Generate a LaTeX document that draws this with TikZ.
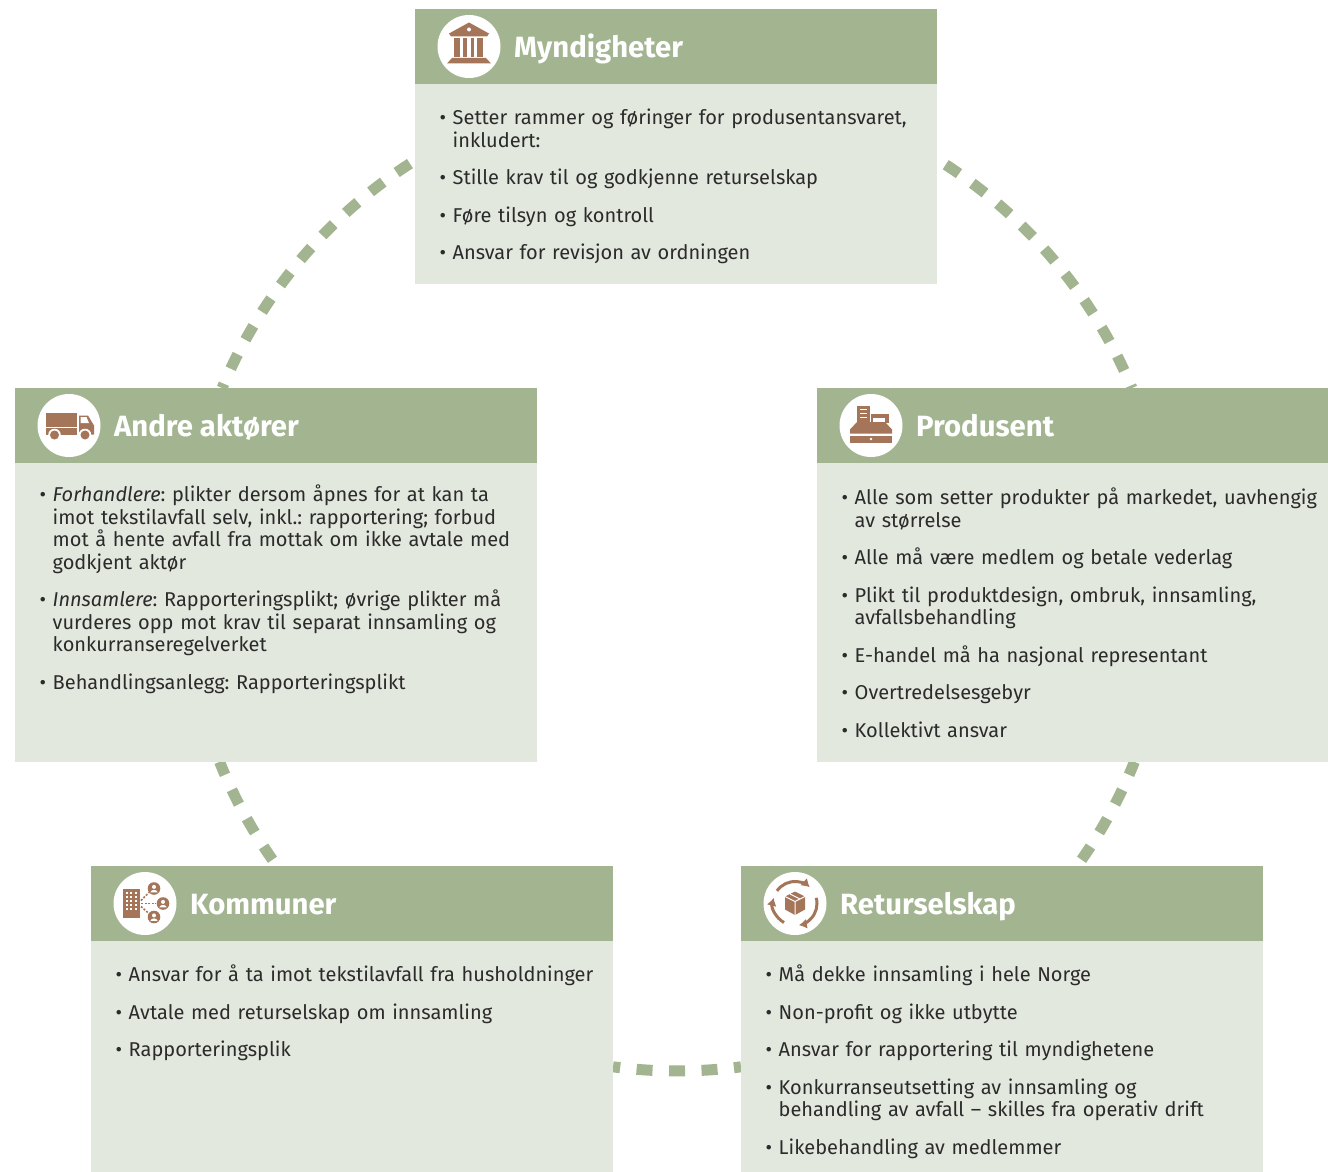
\documentclass[tikz,border=0pt]{standalone}
\usepackage{fontspec}
\setmainfont{Fira Sans}
\usetikzlibrary{positioning,calc,arrows.meta}

\definecolor{headgreen}{HTML}{A2B590}
\definecolor{bodygreen}{HTML}{E3E8DE}
\definecolor{iconbrown}{HTML}{A5755A}
\definecolor{bodyink}{HTML}{2B2B2B}

\newenvironment{boxlist}{\frenchspacing\begin{list}{\fontsize{20}{20}\selectfont\textbullet}{%
    \setlength{\leftmargin}{15.5pt}\setlength{\labelwidth}{10pt}\setlength{\labelsep}{6.5pt}%
    \setlength{\itemsep}{15pt}\setlength{\parsep}{0pt}\setlength{\topsep}{0pt}\setlength{\partopsep}{0pt}%
    \setlength{\itemindent}{0pt}}\raggedright}{\end{list}}

\tikzset{
    headbox/.style={rectangle, fill=headgreen, minimum width=522pt, minimum height=75pt, inner sep=0pt, outer sep=0pt, anchor=north west},
    bodybox/.style={rectangle, fill=bodygreen, minimum width=522pt, inner sep=0pt, outer sep=0pt},
    iconspot/.style={circle, fill=white, minimum size=63pt, inner sep=0pt, outer sep=0pt},
    headtitle/.style={text=white, inner sep=0pt, text height=24pt, text depth=2pt, font=\fontsize{29.3}{32}\bfseries\selectfont},
    listtext/.style={text width=500pt, inner sep=0pt, anchor=north west, text=bodyink, font=\fontsize{20}{22.5}\selectfont},
    ringdash/.style={headgreen, line width=11pt, dash pattern=on 16pt off 16.5pt},
    bankicon/.pic={
        \fill [iconbrown] (-20,-13) -- (0,-24) -- (20,-13) -- (18,-10) -- (-18,-10) -- cycle;
        \fill [white] (0,-17) circle (2);
        \fill [iconbrown] (-14.7,-8) rectangle (-9,10.7);
        \fill [iconbrown] (-5.7,-8) rectangle (-2.3,10.7);
        \fill [iconbrown] (1.7,-8) rectangle (5,10.7);
        \fill [iconbrown] (8.3,-8) rectangle (14.3,10.7);
        \fill [iconbrown] (-17,11.5) -- (17,11.5) -- (22,17) -- (-22,17) -- cycle;
    },
    truckicon/.pic={
        \fill [iconbrown] (-23,-13) rectangle (8,1);
        \fill [iconbrown] (-23,2.5) rectangle (8,9);
        \fill [iconbrown] (10,-10) -- (19,-10) -- (25,0) -- (25,9) -- (10,9) -- cycle;
        \fill [white] (11.5,-8.5) -- (17.5,-8.5) -- (20,-2.5) -- (11.5,-2.5) -- cycle;
        \foreach \wheelx in {-14.5,16} {
            \fill [white] (\wheelx,9.5) circle (6.3);
            \fill [iconbrown] (\wheelx,9.5) circle (4.5);
        }
    },
    tillicon/.pic={
        \fill [iconbrown] (-14,-20) rectangle (-1,-4);
        \foreach \sloty in {-17,-13,-9} {
            \fill [white] (-11,\sloty) rectangle (-4,\sloty+1.6);
        }
        \fill [iconbrown] (0,-12) rectangle (18,-3);
        \fill [white] (2,-8) rectangle (14,-4);
        \fill [iconbrown] (-14,-3.5) -- (14,-3.5) -- (21,4) -- (21,8) -- (-21,8) -- (-21,4) -- cycle;
        \fill [iconbrown] (-21,10) rectangle (21,17);
        \fill [white] (0,13.5) circle (1.3);
    },
    personmark/.pic={
        \fill [iconbrown] (0,0) circle (6.3);
        \fill [white] (0,-1.6) circle (2);
        \fill [white] (-3.6,3.8) .. controls (-3,0.6) and (3,0.6) .. (3.6,3.8) -- cycle;
    },
    townicon/.pic={
        \fill [iconbrown] (-22,-15) rectangle (-5,14);
        \foreach \winx in {-19.5,-15,-10.5} {
            \foreach \winy in {-12,-8,-4,0,4} {
                \fill [white] (\winx,\winy) rectangle (\winx+2.4,\winy+2.4);
            }
        }
        \draw [iconbrown, line width=1.6pt, dash pattern=on 2pt off 1.5pt] (-4,-3) -- (4,-11);
        \draw [iconbrown, line width=1.6pt, dash pattern=on 2pt off 1.5pt] (-4,0) -- (11,0);
        \draw [iconbrown, line width=1.6pt, dash pattern=on 2pt off 1.5pt] (-4,3) -- (4,10);
        \pic at (9,-15) {personmark};
        \pic at (18,0) {personmark};
        \pic at (9,13.5) {personmark};
    },
    cycleicon/.pic={
        \draw [iconbrown, line width=3pt, -{Latex[length=8pt,width=10pt]}] (215:22) arc [start angle=215, end angle=312, radius=22];
        \draw [iconbrown, line width=3pt, -{Latex[length=8pt,width=10pt]}] (345:22) arc [start angle=345, end angle=440, radius=22];
        \draw [iconbrown, line width=3pt, -{Latex[length=8pt,width=10pt]}] (120:22) arc [start angle=120, end angle=195, radius=22];
        \fill [iconbrown] (0,-12) -- (10,-7) -- (10,6) -- (0,11.5) -- (-10,6) -- (-10,-7) -- cycle;
        \draw [white, line width=1pt] (-10,-7) -- (0,-2) -- (10,-7) (0,-2) -- (0,11.5) (-5,-9.5) -- (5,-4.5);
    },
}

\begin{document}
\begin{tikzpicture}[x=1pt, y=-1pt]
    \useasboundingbox (0,0) rectangle (1328,1172);

    \coordinate (ring) at (677,578);
    \coordinate (myndighetersw) at ($(ring)+(237.9:493)$);
    \coordinate (myndigheterse) at ($(ring)+(302.1:493)$);
    \coordinate (andrese) at ($(ring)+(158.1:493)$);
    \coordinate (produsentsw) at ($(ring)+(21.9:493)$);
    \coordinate (kommunerse) at ($(ring)+(97.46:493)$);

    \draw [ringdash, dash phase=26.5pt] (myndighetersw) arc [start angle=237.9, end angle=202.67, radius=493];
    \draw [ringdash, dash phase=24.5pt] (myndigheterse) arc [start angle=302.1, end angle=337.33, radius=493];
    \draw [ringdash, dash phase=2pt] (andrese) arc [start angle=158.1, end angle=144.26, radius=493];
    \draw [ringdash, dash phase=2pt] (produsentsw) arc [start angle=21.9, end angle=35.74, radius=493];
    \draw [ringdash, dash phase=8.8pt] (kommunerse) arc [start angle=97.46, end angle=82.54, radius=493];

    \node [headbox] (myndigheter) at (415,9) {};
    \node [bodybox, minimum height=200pt, below=0pt of myndigheter] (myndigheterbody) {};
    \node [iconspot, right=22.5pt of myndigheter.west] (myndigheterspot) {};
    \pic at (myndigheterspot.center) {bankicon};
    \node [headtitle, right=13.5pt of myndigheterspot] (myndighetertitle) {Myndigheter};
    \node [listtext, below right=18pt and 22pt of myndigheterbody.north west] (myndigheterlist) {\begin{boxlist}
        \item Setter rammer og føringer for produsentansvaret,\\ inkludert:
        \item Stille krav til og godkjenne returselskap
        \item Føre tilsyn og kontroll
        \item Ansvar for revisjon av ordningen
    \end{boxlist}};

    \node [headbox] (andre) at (15,388) {};
    \node [bodybox, minimum height=299pt, below=0pt of andre] (andrebody) {};
    \node [iconspot, right=22.5pt of andre.west] (andrespot) {};
    \pic at (andrespot.center) {truckicon};
    \node [headtitle, right=13.5pt of andrespot] (andretitle) {Andre aktører};
    \node [listtext, below right=16pt and 22pt of andrebody.north west] (andrelist) {\begin{boxlist}
        \item \textit{Forhandlere}: plikter dersom åpnes for at kan ta\\ imot tekstilavfall selv, inkl.: rapportering; forbud\\ mot å hente avfall fra mottak om ikke avtale med\\ godkjent aktør
        \item \textit{Innsamlere}: Rapporteringsplikt; øvrige plikter må\\ vurderes opp mot krav til separat innsamling og\\ konkurranseregelverket
        \item Behandlingsanlegg: Rapporteringsplikt
    \end{boxlist}};

    \node [headbox, minimum width=511pt] (produsent) at (817,388) {};
    \node [bodybox, minimum width=511pt, minimum height=299pt, below=0pt of produsent] (produsentbody) {};
    \node [iconspot, right=22.5pt of produsent.west] (produsentspot) {};
    \pic at (produsentspot.center) {tillicon};
    \node [headtitle, right=13.5pt of produsentspot] (produsenttitle) {Produsent};
    \node [listtext, below right=19pt and 22pt of produsentbody.north west] (produsentlist) {\begin{boxlist}
        \item Alle som setter produkter på markedet, uavhengig\\ av størrelse
        \item Alle må være medlem og betale vederlag
        \item Plikt til produktdesign, ombruk, innsamling,\\ avfallsbehandling
        \item E-handel må ha nasjonal representant
        \item Overtredelsesgebyr
        \item Kollektivt ansvar
    \end{boxlist}};

    \node [headbox] (kommuner) at (91,866) {};
    \node [bodybox, minimum height=231pt, below=0pt of kommuner] (kommunerbody) {};
    \node [iconspot, right=22.5pt of kommuner.west] (kommunerspot) {};
    \pic at (kommunerspot.center) {townicon};
    \node [headtitle, right=13.5pt of kommunerspot] (kommunertitle) {Kommuner};
    \node [listtext, below right=18pt and 22pt of kommunerbody.north west] (kommunerlist) {\begin{boxlist}
        \item Ansvar for å ta imot tekstilavfall fra husholdninger
        \item Avtale med returselskap om innsamling
        \item Rapporteringsplik
    \end{boxlist}};

    \node [headbox] (retur) at (741,866) {};
    \node [bodybox, minimum height=231pt, below=0pt of retur] (returbody) {};
    \node [iconspot, right=22.5pt of retur.west] (returspot) {};
    \pic at (returspot.center) {cycleicon};
    \node [headtitle, right=13.5pt of returspot] (returtitle) {Returselskap};
    \node [listtext, below right=18pt and 22pt of returbody.north west] (returlist) {\begin{boxlist}
        \item Må dekke innsamling i hele Norge
        \item Non-profit og ikke utbytte
        \item Ansvar for rapportering til myndighetene
        \item Konkurranseutsetting av innsamling og\\ behandling av avfall – skilles fra operativ drift
        \item Likebehandling av medlemmer
    \end{boxlist}};
\end{tikzpicture}
\end{document}
